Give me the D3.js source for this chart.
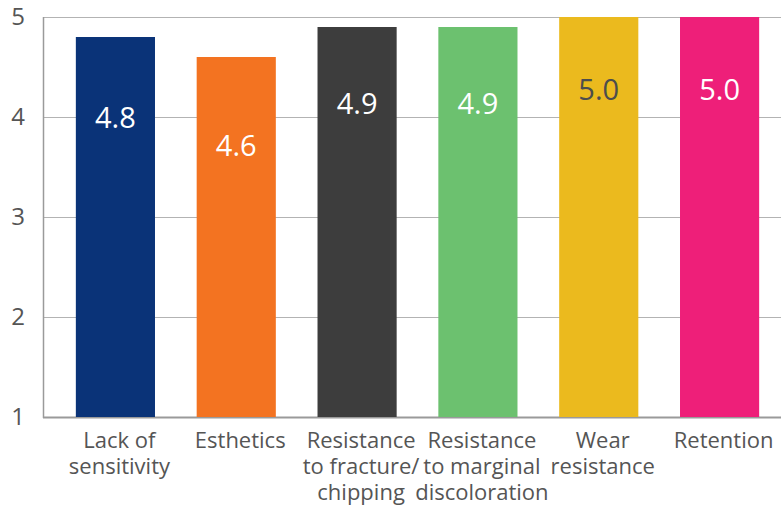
<!DOCTYPE html>
<html lang="en">
  <head>
    <meta charset="utf-8">
    <title>Ratings</title>
    <script src="https://d3js.org/d3.v7.js"></script>
    <style>
      body { margin: 0; background: white; }
      text { font-family: "Open Sans", "DejaVu Sans", sans-serif; }
    </style>
  </head>
  <body>
  <script>

  const w = 781;
  const h = 506;

  const categories = ["Lack of sensitivity", "Esthetics", "Resistance to fracture/ chipping",
    "Resistance to marginal discoloration", "Wear resistance", "Retention"];
  const labelLines = [["Lack of", "sensitivity"], ["Esthetics"], ["Resistance", "to fracture/", "chipping"],
    ["Resistance", "to marginal", "discoloration"], ["Wear", "resistance"], ["Retention"]];
  const values = [4.8, 4.6, 4.9, 4.9, 5.0, 5.0];
  const colors = ["#0a3378", "#f37321", "#3d3d3d", "#6cc16f", "#ebba1e", "#ee1f79"];
  const valueColors = ["#fff", "#fff", "#fff", "#fff", "#4d4d4d", "#fff"];
  const yTicks = [1, 2, 3, 4, 5];

  const axisX = 43;

  const xScale = d3.scaleBand()
      .domain(categories)
      .range([55, 780])
      .paddingInner(0.345)
      .paddingOuter(0.1725);

  const yScale = d3.scaleLinear()
      .domain([1, 5])
      .range([417, 17]);

  const svg = d3.select("body")
    .append("svg")
      .attr("width", w)
      .attr("height", h);

// gridlines

  svg.append("g")
    .selectAll("line")
    .data(yTicks)
    .enter().append("line")
      .attr("x1", axisX)
      .attr("x2", w)
      .attr("y1", d => yScale(d) + 0.5)
      .attr("y2", d => yScale(d) + 0.5)
      .attr("stroke", d => d === 1 ? "#9a9a9a" : "#b3b3b3")
      .attr("stroke-width", d => d === 1 ? 2 : 1);

// bars

  svg.append("g")
    .selectAll("rect")
    .data(values)
    .enter().append("rect")
      .attr("x", (d, i) => xScale(categories[i]))
      .attr("y", d => yScale(d))
      .attr("width", xScale.bandwidth())
      .attr("height", d => yScale(1) - yScale(d))
      .attr("fill", (d, i) => colors[i]);

// y axis line

  svg.append("line")
      .attr("x1", axisX + 0.5)
      .attr("x2", axisX + 0.5)
      .attr("y1", yScale(5))
      .attr("y2", yScale(1) + 1)
      .attr("stroke", "#9a9a9a")
      .attr("stroke-width", 1.5);

  svg.append("g")
    .selectAll("text")
    .data(yTicks)
    .enter().append("text")
      .attr("x", 25)
      .attr("y", d => yScale(d) + 8)
      .attr("text-anchor", "end")
      .attr("font-size", 24)
      .attr("fill", "#555")
      .text(d => d);

// value labels

  svg.append("g")
    .selectAll("text")
    .data(values)
    .enter().append("text")
      .attr("x", (d, i) => xScale(categories[i]) + xScale.bandwidth() / 2)
      .attr("y", d => yScale(d) + 83 + (5 - d) * 40)
      .attr("text-anchor", "middle")
      .attr("font-size", 29)
      .attr("fill", (d, i) => valueColors[i])
      .text(d => d.toFixed(1));

// category labels, one text per line

  const lines = [];
  labelLines.forEach((ls, i) => ls.forEach((t, j) => lines.push({cat: categories[i], t: t, j: j})));

  svg.append("g")
    .selectAll("text")
    .data(lines)
    .enter().append("text")
      .attr("x", d => xScale(d.cat) + xScale.bandwidth() / 2 + 4)
      .attr("y", d => 448 + d.j * 26)
      .attr("text-anchor", "middle")
      .attr("font-size", 22)
      .attr("fill", "#555")
      .text(d => d.t);

  </script>
  </body>
</html>
